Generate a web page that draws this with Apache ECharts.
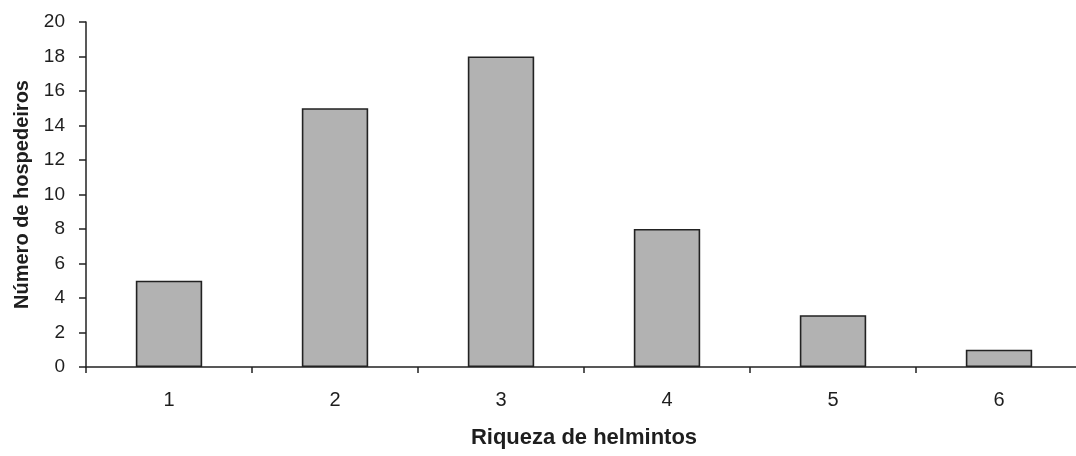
<!DOCTYPE html>
<html><head><meta charset="utf-8">
<script src="https://cdn.jsdelivr.net/npm/echarts@6/dist/echarts.min.js"></script>
<style>html,body{margin:0;padding:0;background:#fff}#c{width:1076px;height:456px}</style>
</head><body><div id="c"></div>
<script>
const categories = ['1','2','3','4','5','6'];
const values = [5, 15, 18, 8, 3, 1];
const yTicks = [0, 2, 4, 6, 8, 10, 12, 14, 16, 18, 20];
const chart = echarts.init(document.getElementById('c'));
const font = 'Liberation Sans, Arial, sans-serif';
chart.setOption({
  animation: false,
  grid: {left: 86, top: 22, width: 996, height: 345, containLabel: false, outerBoundsMode: 'none'},
  xAxis: {
    type: 'category', data: categories,
    name: 'Riqueza de helmintos', nameLocation: 'middle', nameGap: 60,
    nameTextStyle: {fontFamily: font, fontSize: 22, fontWeight: 'bold', color: '#1e1e1e'},
    axisLine: {lineStyle: {color: '#222', width: 1.5}},
    axisTick: {show: true, alignWithLabel: false, length: 6, lineStyle: {color: '#222', width: 1.5}},
    axisLabel: {fontFamily: font, fontSize: 20, color: '#1e1e1e', margin: 23},
    splitLine: {show: false}
  },
  yAxis: {
    type: 'value', min: yTicks[0], max: yTicks[yTicks.length-1], interval: 2,
    name: 'Número de hospedeiros', nameLocation: 'middle', nameGap: 53,
    nameTextStyle: {fontFamily: font, fontSize: 20, fontWeight: 'bold', color: '#1e1e1e'},
    axisLine: {show: true, lineStyle: {color: '#222', width: 1.5}},
    axisTick: {show: true, length: 7, lineStyle: {color: '#222', width: 1.5}},
    axisLabel: {fontFamily: font, fontSize: 19, color: '#1e1e1e', margin: 21},
    splitLine: {show: false}
  },
  series: [{
    type: 'bar', data: values, barWidth: '40%',
    itemStyle: {color: '#b2b2b2', borderColor: '#222', borderWidth: 1.6}
  }]
});
</script></body></html>
